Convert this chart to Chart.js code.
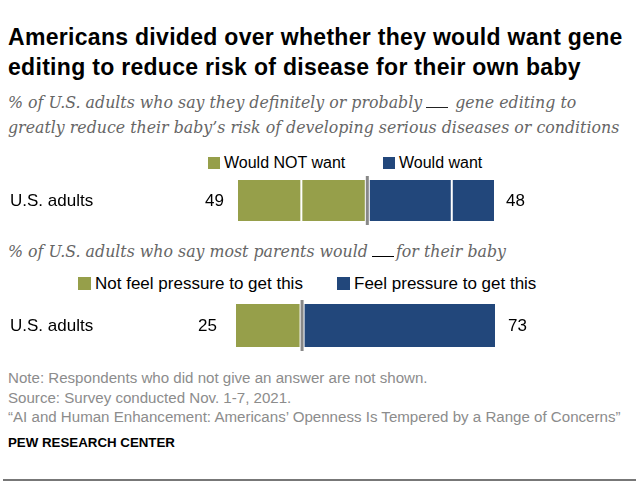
<!DOCTYPE html>
<html>
<head>
<meta charset="utf-8">
<script src="https://cdn.jsdelivr.net/npm/chart.js@4"></script>
<style>
  body { margin: 0; background: #fff; width: 639px; height: 484px; position: relative; overflow: hidden; font-family: "Liberation Sans", Arial, sans-serif; }
  .abs { position: absolute; white-space: nowrap; }
  .title { left: 8px; top: 22px; font-weight: bold; font-size: 23px; letter-spacing: 0.3px; line-height: 30px; color: #000; }
  .sub { left: 8px; font-family: "DejaVu Serif", Georgia, serif; font-style: italic; font-size: 15.8px; line-height: 25px; color: #666; }
  .blank { display: inline-block; width: 22px; border-bottom: 1.5px solid #222; margin: 0 2px 0 4px; vertical-align: 0; }
  .leg { font-size: 16px; line-height: 20px; color: #000; }
  .leg2 { font-size: 17px; }
  .sw { display: inline-block; width: 12px; height: 12px; margin-right: 4px; vertical-align: -1px; }
  .leg2 .sw { width: 13px; height: 13px; }
  .note { left: 8px; font-size: 15.1px; line-height: 20px; color: #8c8c8c; }
  .pew { left: 8px; top: 435px; font-size: 13.3px; font-weight: bold; color: #000; }
  canvas { position: absolute; left: 0; }
  .rule { position: absolute; left: 3px; right: 3px; top: 479px; height: 2px; background: #777; }
</style>
</head>
<body>
<div class="abs title">Americans divided over whether they would want gene<br>editing to reduce risk of disease for their own baby</div>
<div class="abs sub" style="top:90px">% of U.S. adults who say they definitely or probably<span class="blank"></span> gene editing to<br>greatly reduce their baby’s risk of developing serious diseases or conditions</div>

<div class="abs leg" style="left:208px; top:153px"><span class="sw" style="background:#969f4a"></span>Would NOT want</div>
<div class="abs leg" style="left:383px; top:153px"><span class="sw" style="background:#22477b"></span>Would want</div>
<canvas id="c1" width="639" height="53" style="top:174px; width:639px; height:53px"></canvas>

<div class="abs sub" style="top:239px">% of U.S. adults who say most parents would<span class="blank" style="border-color:#000"></span>for their baby</div>
<div class="abs leg leg2" style="left:78px; top:274px"><span class="sw" style="background:#969f4a"></span>Not feel pressure to get this</div>
<div class="abs leg leg2" style="left:337px; top:274px"><span class="sw" style="background:#22477b"></span>Feel pressure to get this</div>
<canvas id="c2" width="639" height="55" style="top:298px; width:639px; height:55px"></canvas>

<div class="abs note" style="top:368px">Note: Respondents who did not give an answer are not shown.</div>
<div class="abs note" style="top:388px">Source: Survey conducted Nov. 1-7, 2021.</div>
<div class="abs note" style="top:407px">“AI and Human Enhancement: Americans’ Openness Is Tempered by a Range of Concerns”</div>
<div class="abs pew">PEW RESEARCH CENTER</div>
<div class="rule"></div>

<script>
const GREEN = '#969f4a';
const BLUE = '#22477b';

// chart 1: would want gene editing for own baby
const rowLabel = ['U.S. adults'];
const definitelyNot = [24];
const probablyNot = [25];
const probablyWant = [32];
const definitelyWant = [16];
const notWantTotal = [49];
const wantTotal = [48];

// chart 2: most parents would feel pressure
const notFeelPressure = [25];
const feelPressure = [73];

// draws row label, totals, white splits and the grey midline
const barExtras = {
    id: 'barExtras',
    afterDatasetsDraw(chart, args, opts) {
        const ctx = chart.ctx;
        const x = chart.scales.x;
        const area = chart.chartArea;
        const midY = (area.top + area.bottom) / 2 + 1;
        ctx.save();
        // white separators inside each side
        ctx.strokeStyle = '#fff';
        ctx.lineWidth = 2;
        let sum = 0;
        chart.data.datasets.forEach((ds, i) => {
            sum += ds.data[0];
            if (i < chart.data.datasets.length - 1 && sum !== opts.mid) {
                const px = x.getPixelForValue(sum);
                ctx.beginPath();
                ctx.moveTo(px, area.top);
                ctx.lineTo(px, area.bottom);
                ctx.stroke();
            }
        });
        // grey divider
        const mx = x.getPixelForValue(opts.mid);
        ctx.fillStyle = '#fff';
        ctx.fillRect(mx - 2.5, area.top, 5, area.bottom - area.top);
        ctx.strokeStyle = '#888';
        ctx.lineWidth = 3;
        ctx.beginPath();
        ctx.moveTo(mx, area.top - 4);
        ctx.lineTo(mx, area.bottom + 4);
        ctx.stroke();
        // labels
        ctx.font = '17px "Liberation Sans", Arial, sans-serif';
        ctx.fillStyle = '#000';
        ctx.textBaseline = 'middle';
        ctx.textAlign = 'left';
        ctx.fillText(chart.data.labels[0], 10, midY);
        ctx.textAlign = 'right';
        ctx.fillText(opts.left, x.getPixelForValue(0) - opts.gapL, midY);
        ctx.textAlign = 'left';
        ctx.fillText(opts.right, x.getPixelForValue(x.max) + opts.gapR, midY);
        ctx.restore();
    }
};

function makeBar(id, datasets, max, mid, left, right, pad, gapL, gapR) {
    new Chart(document.getElementById(id), {
        type: 'bar',
        data: { labels: rowLabel, datasets: datasets },
        options: {
            indexAxis: 'y',
            responsive: false,
            animation: false,
            events: [],
            layout: { padding: pad },
            scales: {
                x: { stacked: true, min: 0, max: max, display: false },
                y: { stacked: true, display: false }
            },
            plugins: {
                legend: { display: false },
                tooltip: { enabled: false },
                barExtras: { mid: mid, left: left, right: right, gapL: gapL, gapR: gapR }
            },
            datasets: { bar: { barPercentage: 1, categoryPercentage: 1, borderWidth: 0 } }
        },
        plugins: [barExtras]
    });
}

makeBar('c1', [
    { label: 'Definitely not', data: definitelyNot, backgroundColor: GREEN },
    { label: 'Probably not', data: probablyNot, backgroundColor: GREEN },
    { label: 'Probably want', data: probablyWant, backgroundColor: BLUE },
    { label: 'Definitely want', data: definitelyWant, backgroundColor: BLUE }
], notWantTotal[0] + wantTotal[0], notWantTotal[0], notWantTotal[0], wantTotal[0],
   { left: 238, right: 145, top: 6, bottom: 6 }, 14, 12);

makeBar('c2', [
    { label: 'Not feel pressure', data: notFeelPressure, backgroundColor: GREEN },
    { label: 'Feel pressure', data: feelPressure, backgroundColor: BLUE }
], notFeelPressure[0] + feelPressure[0], notFeelPressure[0], notFeelPressure[0], feelPressure[0],
   { left: 236, right: 144, top: 6, bottom: 6 }, 19, 13);
</script>
</body>
</html>
